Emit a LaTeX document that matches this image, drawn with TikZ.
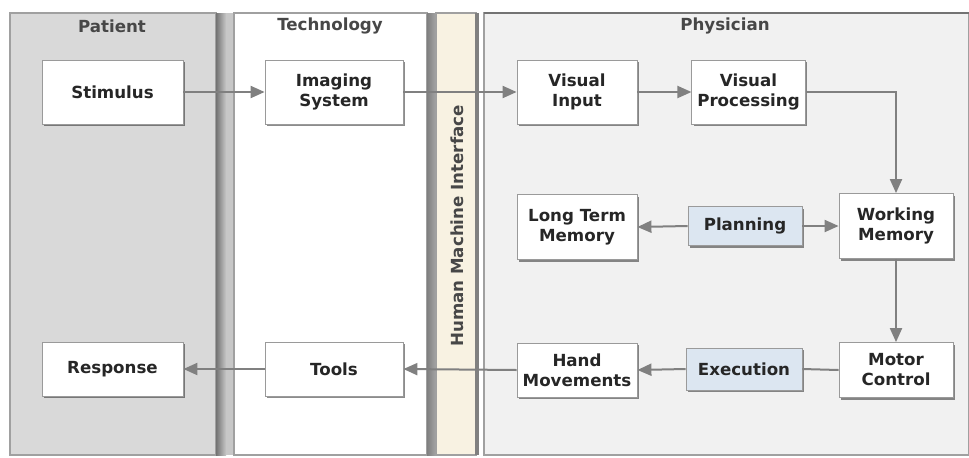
\documentclass[tikz,border=0pt]{standalone}
\usepackage{fontspec}
\setmainfont{DejaVu Sans}
\usetikzlibrary{shadows,arrows.meta}
\definecolor{patientbg}{HTML}{D9D9D9}
\definecolor{physbg}{HTML}{F1F1F1}
\definecolor{hmibg}{HTML}{F8F2E2}
\definecolor{planbg}{HTML}{DCE6F1}
\definecolor{laneborder}{HTML}{A0A0A0}
\definecolor{boxborder}{HTML}{9A9A9A}
\definecolor{conn}{HTML}{808080}
\definecolor{txt}{HTML}{262626}
\tikzset{
  lane/.style={draw=laneborder, line width=0.8pt},
  lanetitle/.style={font=\bfseries\fontsize{12.5}{14}\selectfont, text=txt!85},
  box/.style={draw=boxborder, line width=0.6pt, fill=white, align=center, inner sep=1pt,
    font=\bfseries\fontsize{12.5}{15}\selectfont, text=txt,
    drop shadow={shadow xshift=1.6pt, shadow yshift=-1.6pt, fill=black, opacity=0.45}},
  bluebox/.style={box, fill=planbg},
  conn/.style={draw=conn, line width=1.5pt},
  arr/.style={conn, -{Triangle[length=10.5pt,width=9pt]}}
}
\begin{document}
\begin{tikzpicture}[x=0.75pt,y=-0.75pt]
\useasboundingbox (0,0) rectangle (969,457);
\fill[white] (0,0) rectangle (969,457);
% lanes
\draw[lane, fill=patientbg] (10,13) rectangle (216,455);
\shade[left color=black!55, right color=black!22] (216,13) rectangle (226,455);
\fill[black!22] (226,13) rectangle (234,455);
\draw[lane, fill=white] (234,13) rectangle (427,455);
\shade[left color=black!50, right color=black!35] (427,13) rectangle (436,455);
\draw[lane, fill=hmibg] (436,13) rectangle (476,455);
\fill[black!50] (475,13) rectangle (479,455);
\draw[lane, fill=physbg] (484,13) rectangle (969,455);
\draw[black!55, line width=1.5pt] (484,13) -- (969,13);
% lane titles
\node[lanetitle] (tpat) at (112,26) {Patient};
\node[lanetitle] (ttec) at (330,26) {Technology};
\node[lanetitle] (tphy) at (725,26) {Physician};
\node[lanetitle, rotate=90] (thmi) at (457,226) {Human Machine Interface};
% nodes
\node[box, minimum width=105.75pt, minimum height=48pt] (stim) at (112.5,92) {Stimulus};
\node[box, minimum width=103.5pt, minimum height=48pt] (img) at (334,92) {Imaging\\System};
\node[box, minimum width=90pt, minimum height=48pt] (vin) at (577,92) {Visual\\Input};
\node[box, minimum width=85pt, minimum height=48pt] (vproc) at (748.5,92) {Visual\\Processing};
\node[box, minimum width=90pt, minimum height=48.75pt] (ltm) at (577,227) {Long Term\\Memory};
\node[bluebox, minimum width=85.5pt, minimum height=29.25pt] (plan) at (745,226) {Planning};
\node[box, minimum width=85.5pt, minimum height=48.75pt] (wm) at (896,226) {Working\\Memory};
\node[box, minimum width=85.5pt, minimum height=41.25pt] (mc) at (896,370) {Motor\\Control};
\node[bluebox, minimum width=87pt, minimum height=31.5pt] (exe) at (744,369) {Execution};
\node[box, minimum width=90pt, minimum height=40.5pt] (hand) at (577,370) {Hand\\Movements};
\node[box, minimum width=103.5pt, minimum height=40.5pt] (tools) at (334,369) {Tools};
\node[box, minimum width=105.75pt, minimum height=40.5pt] (resp) at (112.5,369) {Response};
% connectors
\draw[arr] (stim.east) -- (img.west);
\draw[arr] (img.east) -- (vin.west);
\draw[arr] (vin.east) -- (vproc.west);
\draw[arr] (vproc.east) -| (wm.north);
\draw[arr] (plan.west) -- (ltm.east);
\draw[arr] (plan.east) -- (wm.west);
\draw[arr] (wm.south) -- (mc.north);
\draw[conn] (mc.west) -- (exe.east);
\draw[arr] (exe.west) -- (hand.east);
\draw[arr] (hand.west) -- (tools.east);
\draw[arr] (tools.west) -- (resp.east);
\end{tikzpicture}
\end{document}
